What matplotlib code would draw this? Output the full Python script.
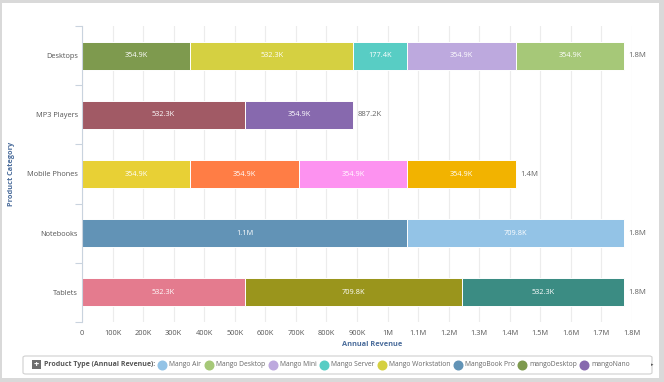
import matplotlib
matplotlib.use('Agg')
import matplotlib.pyplot as plt
from matplotlib.patches import Rectangle, FancyBboxPatch

plt.rcParams['font.family'] = ['Open Sans', 'DejaVu Sans']

categories = ['Desktops', 'MP3 Players', 'Mobile Phones', 'Notebooks', 'Tablets']

# segments per category, left to right (values in K)
seg_types = [
    ['mangoDesktop', 'Mango Workstation', 'Mango Server', 'Mango Mini', 'Mango Desktop'],
    ['mangoPod', 'mangoNano'],
    ['mangoPhone', 'mangoPhone Plus', 'mangoPhone Mini', 'mangoPhone Pro'],
    ['MangoBook Pro', 'Mango Air'],
    ['mangoTab', 'mangoTab Pro', 'mangoTab Mini'],
]
seg_values = [
    [354.9, 532.3, 177.4, 354.9, 354.9],
    [532.3, 354.9],
    [354.9, 354.9, 354.9, 354.9],
    [1064.6, 709.8],
    [532.3, 709.8, 532.3],
]

type_colors = {
    'Mango Air': '#93c3e6',
    'Mango Desktop': '#a6c878',
    'Mango Mini': '#bda9de',
    'Mango Server': '#58cdc4',
    'Mango Workstation': '#d5d041',
    'MangoBook Pro': '#6293b6',
    'mangoDesktop': '#7e9a4e',
    'mangoNano': '#8769ae',
    'mangoPod': '#a15a65',
    'mangoPhone': '#e8d035',
    'mangoPhone Plus': '#ff7d45',
    'mangoPhone Mini': '#fd92f0',
    'mangoPhone Pro': '#f2b300',
    'mangoTab': '#e47b8e',
    'mangoTab Pro': '#9a951c',
    'mangoTab Mini': '#3b8c83',
}
legend_types = ['Mango Air', 'Mango Desktop', 'Mango Mini', 'Mango Server',
                'Mango Workstation', 'MangoBook Pro', 'mangoDesktop', 'mangoNano']

FS = 5.3


def fmt(v):
    if v >= 1000:
        return f'{v / 1000:.1f}M'
    return f'{v:.1f}K'


fig = plt.figure(figsize=(6.64, 3.82), dpi=100, facecolor='#d9d9d9')
fig.patches.append(Rectangle((2 / 664, 4 / 382), 657 / 664, 375 / 382,
                             transform=fig.transFigure, facecolor='white',
                             edgecolor='none', zorder=-10))
ax = fig.add_axes([82 / 664, 1 - 322 / 382, 550 / 664, 296 / 382])
ax.set_facecolor('none')

for i, (types, vals) in enumerate(zip(seg_types, seg_values)):
    left = 0
    for t, v in zip(types, vals):
        ax.barh(i, v, left=left, height=0.47, color=type_colors[t],
                edgecolor='white', linewidth=0.7, zorder=2)
        ax.text(left + v / 2, i, fmt(v), ha='center', va='center',
                color='white', fontsize=FS, zorder=3)
        left += v
    ax.text(left + 14, i, fmt(left), ha='left', va='center',
            color='#666666', fontsize=FS + 0.3, clip_on=False)

ax.set_xlim(0, 1800)
ax.set_ylim(4.5, -0.5)
ax.set_xticks(range(0, 1801, 100))
ax.set_xticklabels(['0'] + [f'{x}K' for x in range(100, 1000, 100)] + ['1M'] +
                   [f'{x / 1000:.1f}M' for x in range(1100, 1801, 100)])
ax.set_yticks(range(len(categories)))
ax.set_yticklabels(categories)
ax.set_yticks([i - 0.5 for i in range(len(categories) + 1)], minor=True)
ax.tick_params(axis='y', which='major', length=0, pad=3, labelsize=FS, labelcolor='#555555')
ax.tick_params(axis='y', which='minor', length=5, color='#c9d3de', width=0.8)
ax.tick_params(axis='x', length=0, pad=6, labelsize=FS, labelcolor='#555555')
ax.grid(axis='x', color='#ececec', linewidth=0.8, zorder=0)
for s in ['top', 'right', 'bottom']:
    ax.spines[s].set_visible(False)
ax.spines['left'].set_color('#c9d3de')

fig.text(372 / 664, 1 - 344 / 382, 'Annual Revenue', ha='center', va='center',
         fontsize=FS, fontweight='bold', color='#4a6c9b')
fig.text(12 / 664, 1 - 174 / 382, 'Product Category', ha='center', va='center',
         rotation=90, fontsize=FS, fontweight='bold', color='#4a6c9b')

# legend bar
ly = 1 - 364.5 / 382
fig.patches.append(FancyBboxPatch((23 / 664, 1 - 374 / 382), 629 / 664, 18 / 382,
                                  boxstyle='round,pad=0,rounding_size=0.004',
                                  transform=fig.transFigure, facecolor='white',
                                  edgecolor='#d0d0d0', linewidth=0.8, zorder=1))
fig.patches.append(Rectangle((32 / 664, ly - 4.5 / 382), 9 / 664, 9 / 382,
                             transform=fig.transFigure, facecolor='#6d6d6d',
                             edgecolor='none', zorder=2))
fig.text(36.5 / 664, ly, '+', ha='center', va='center', color='white',
         fontsize=6.5, fontweight='bold', zorder=3)
renderer = fig.canvas.get_renderer()
t = fig.text(44 / 664, ly, 'Product Type (Annual Revenue):', ha='left', va='center',
             fontsize=5.05, fontweight='bold', color='#555555', zorder=3)
x = t.get_window_extent(renderer).x1 + 7
for name in legend_types:
    fig.lines.append(plt.Line2D([x / 664], [ly], marker='o', markersize=6.2,
                                color=type_colors[name], linestyle='none',
                                transform=fig.transFigure, zorder=3))
    t = fig.text((x + 7) / 664, ly, name, ha='left', va='center',
                 fontsize=4.85, color='#666666', zorder=3)
    x = t.get_window_extent(renderer).x1 + 7.5
fig.text(650.5 / 664, ly, '▸', ha='left', va='center', fontsize=3.5, color='#555555',
         family=['DejaVu Sans'])

fig.savefig('out.png', dpi=100, facecolor=fig.get_facecolor())
